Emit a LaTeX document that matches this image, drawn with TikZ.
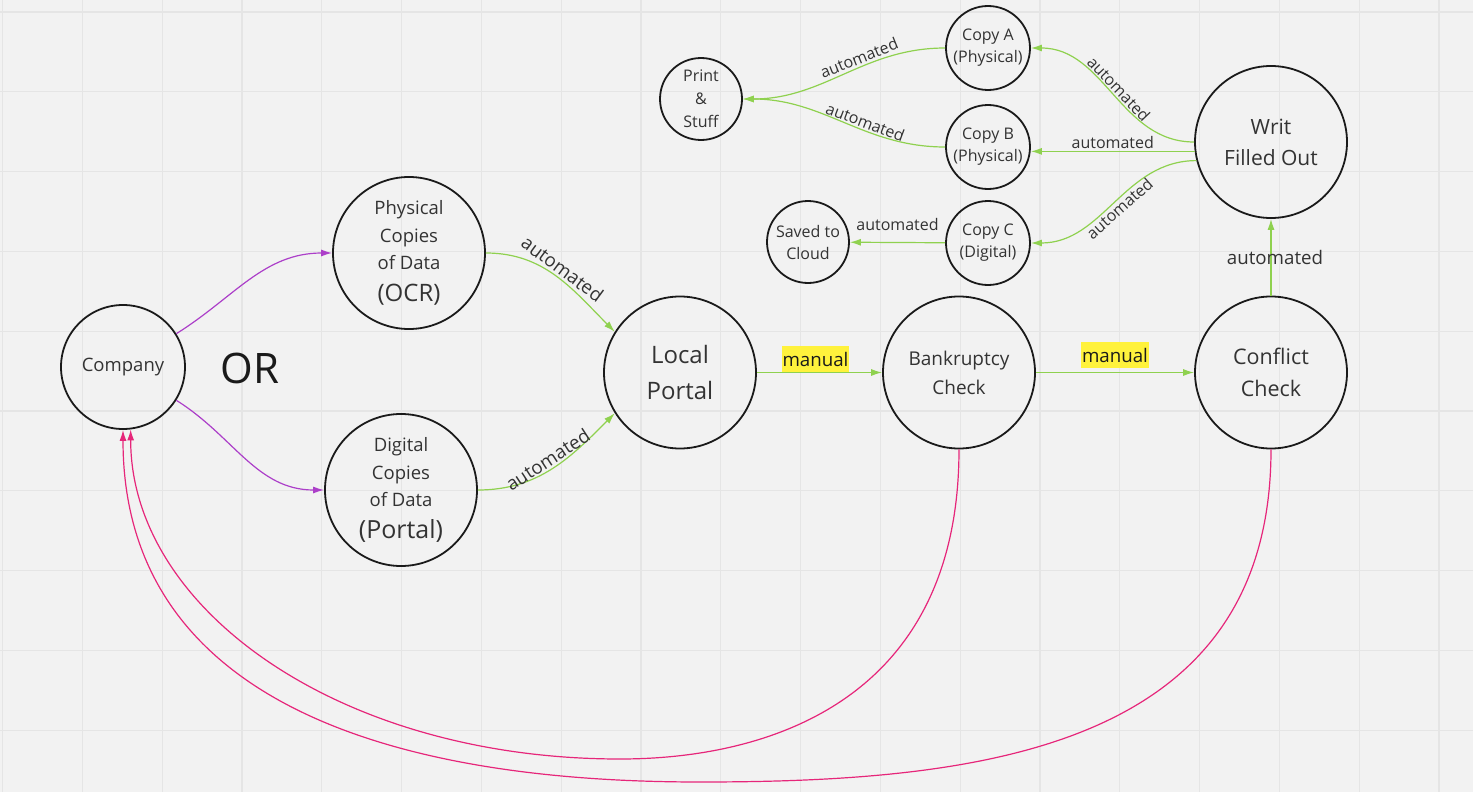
\documentclass[tikz,border=0pt]{standalone}
\usepackage{fontspec}
\setmainfont{Open Sans}
\usetikzlibrary{arrows.meta}
\definecolor{paper}{HTML}{F2F2F2}
\definecolor{gridline}{HTML}{E5E5E5}
\definecolor{ink}{HTML}{1A1A1A}
\definecolor{txt}{HTML}{333333}
\definecolor{autogreen}{HTML}{8FD14F}
\definecolor{orpurple}{HTML}{AC3FC9}
\definecolor{backpink}{HTML}{E6267A}
\definecolor{hlyellow}{HTML}{FFF23C}

\begin{document}
\begin{tikzpicture}[x=1pt,y=1pt,>={Latex[length=11pt,width=7pt]},
   state/.style={circle,draw=ink,line width=1.8pt,inner sep=0pt,align=center,text=txt},
   bignode/.style={state,minimum size=152pt},
   smallnode/.style={state,minimum size=84pt,font=\fontsize{16}{22}\selectfont},
   greenline/.style={->,draw=autogreen,line width=1.2pt},
   purpleline/.style={->,draw=orpurple,line width=1.2pt},
   pinkline/.style={->,draw=backpink,line width=1.2pt},
   lab/.style={text=txt,inner sep=2pt,font=\fontsize{16}{20}\selectfont},
   biglab/.style={lab,font=\fontsize{18.7}{22}\selectfont},
   hl/.style={fill=hlyellow,text=ink,inner sep=0pt,inner xsep=1pt,text height=21pt,text depth=5pt,font=\fontsize{18.7}{22}\selectfont}]
   % board and grid
   \fill[paper] (0,0) rectangle (1473,-792);
   \useasboundingbox (0,0) rectangle (1473,-792);
   \foreach \g in {0,...,18} \draw[gridline,line width=1.2pt] (2.5+79.8*\g,0) -- (2.5+79.8*\g,-792);
   \foreach \g in {0,...,9} \draw[gridline,line width=1.2pt] (0,-12-79.8*\g) -- (1473,-12-79.8*\g);

   \node[state,minimum size=124pt,font=\fontsize{18.5}{26}\selectfont] (company) at (123,-367) {Company};
   \node[text=ink,font=\fontsize{42}{50}\selectfont] (or) at (250,-368) {OR};
   \node[bignode,font=\fontsize{18.5}{27.5}\selectfont] (physical) at (409,-253) {Physical\\Copies\\of Data\\[4pt]{\fontsize{24}{30}\selectfont(OCR)}};
   \node[bignode,font=\fontsize{18.5}{27.5}\selectfont] (digital) at (401,-490) {Digital\\Copies\\of Data\\[4pt]{\fontsize{25}{30}\selectfont(Portal)}};
   \node[bignode,font=\fontsize{24}{36}\selectfont] (local) at (680,-372.5) {Local\\Portal};
   \node[bignode,font=\fontsize{19}{29}\selectfont] (bank) at (959,-372.5) {Bankruptcy\\Check};
   \node[bignode,font=\fontsize{21.5}{32}\selectfont] (conflict) at (1271,-372.5) {Conflict\\Check};
   \node[bignode,font=\fontsize{21}{31}\selectfont] (writ) at (1271,-142) {Writ\\Filled Out};
   \node[smallnode] (copya) at (988,-48) {Copy A\\(Physical)};
   \node[smallnode] (copyb) at (988,-147) {Copy B\\(Physical)};
   \node[smallnode] (copyc) at (988,-243) {Copy C\\(Digital)};
   \node[smallnode,minimum size=82pt,font=\fontsize{16}{23}\selectfont] (print) at (701,-99) {Print\\\&\\Stuff};
   \node[smallnode,minimum size=82pt] (cloud) at (808,-242) {Saved to\\Cloud};
   \coordinate (bankdip) at (620,-759);
   \coordinate (conflictdip) at (700,-782);

   \draw [purpleline] (company.32) to[out=32,in=180] (physical.west) ;
   \draw [purpleline] (company.-32) to[out=-32,in=180] (digital.west) ;
   \draw [greenline] (physical.east) to[out=0,in=135] node[biglab,sloped,above] {automated} (local.148) ;
   \draw [greenline] (digital.east) to[out=0,in=225] node[biglab,sloped,above] {automated} (local.212) ;
   \draw [greenline] (local) -- node[hl,above,xshift=-4pt] {manual} (bank) ;
   \draw [greenline] (bank) -- node[hl,above=4pt] {manual} (conflict) ;
   \draw [greenline] (conflict) -- node[biglab,xshift=4pt] {automated} (writ) ;
   \draw [greenline] (writ.180) to[out=180,in=0] node[lab,sloped,above] {automated} (copya.east) ;
   \draw [greenline] (writ.187) -- node[lab,above] {automated} (copyb.east |- writ.187) ;
   \draw [greenline] (writ.194) to[out=180,in=0] node[lab,sloped,below] {automated} (copyc.east) ;
   \draw [greenline] (copya.west) to[out=180,in=0] node[lab,sloped,above,pos=.4] {automated} (print.east) ;
   \draw [greenline] (copyb.west) to[out=180,in=0] node[lab,sloped,above,pos=.4] {automated} (print.east) ;
   \draw [greenline] (copyc) -- node[lab,above=9pt] {automated} (cloud) ;
   \draw [pinkline] (bank.south) .. controls +(0,-250) and +(150,0) .. (bankdip)
      .. controls +(-280,0) and +(0,-180) .. (company.-83) ;
   \draw [pinkline] (conflict.south) .. controls +(0,-300) and +(280,0) .. (conflictdip)
      .. controls +(-350,0) and +(0,-250) .. (company.-90) ;
\end{tikzpicture}
\end{document}
